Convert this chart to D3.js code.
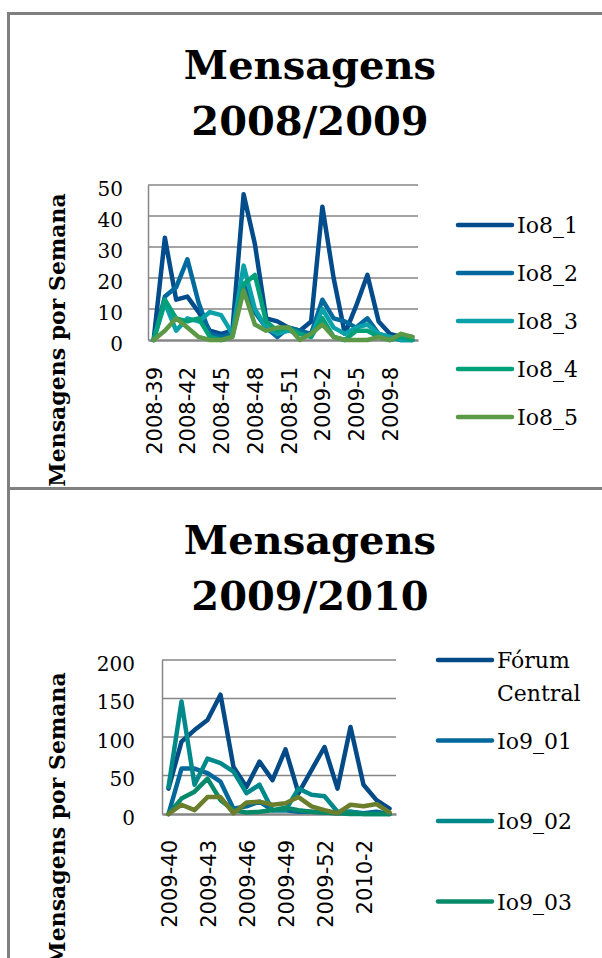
<!DOCTYPE html>
<html>
<head>
<meta charset="utf-8">
<script src="https://cdn.jsdelivr.net/npm/d3@7"></script>
<style>
  body { margin: 0; background: #fff; }
  svg { display: block; }
</style>
</head>
<body>
<svg id="chart" width="602" height="958"></svg>
<script>
/* data */
const weeks0809 = ['2008-39', '2008-40', '2008-41', '2008-42', '2008-43', '2008-44', '2008-45',
  '2008-46', '2008-47', '2008-48', '2008-49', '2008-50', '2008-51', '2008-52', '2009-1', '2009-2',
  '2009-3', '2009-4', '2009-5', '2009-6', '2009-7', '2009-8', '2009-9', '2009-10'];
const names0809 = ['Io8_1', 'Io8_2', 'Io8_3', 'Io8_4', 'Io8_5'];
const io8_1 = [0, 33, 13, 14, 9, 3, 2, 3, 47, 31, 7, 6, 4, 3, 6, 43, 20, 2, 11, 21, 6, 2, 1, 1];
const io8_2 = [0, 14, 17, 26, 12, 2, 1, 2, 18, 9, 4, 1, 4, 3, 2, 13, 7, 6, 4, 7, 2, 1, 0, 0];
const io8_3 = [0, 12, 3, 7, 6, 9, 8, 2, 24, 10, 4, 2, 3, 2, 1, 10, 4, 2, 4, 5, 2, 1, 0, 0];
const io8_4 = [0, 13, 7, 6, 7, 1, 0, 1, 18, 21, 6, 3, 4, 2, 1, 7, 1, 0, 3, 3, 1, 0, 1, 0];
const io8_5 = [0, 3, 7, 4, 1, 0, 0, 1, 16, 5, 3, 4, 4, 0, 2, 5, 1, 0, 0, 0, 1, 0, 2, 1];
const yTicks0809 = [0, 10, 20, 30, 40, 50];

const weeks0910 = ['2009-40', '2009-41', '2009-42', '2009-43', '2009-44', '2009-45', '2009-46',
  '2009-47', '2009-48', '2009-49', '2009-50', '2009-51', '2009-52', '2009-53', '2010-1', '2010-2',
  '2010-3', '2010-4'];
const names0910 = ['Fórum Central', 'Io9_01', 'Io9_02', 'Io9_03', 'Io9_04'];
const forum = [33, 94, 109, 122, 155, 61, 35, 68, 44, 84, 27, 57, 87, 33, 113, 38, 18, 7];
const io9_01 = [0, 59, 59, 53, 42, 7, 10, 16, 5, 5, 3, 3, 2, 1, 3, 1, 3, 0];
const io9_02 = [35, 146, 38, 72, 66, 55, 27, 38, 5, 5, 33, 25, 23, 3, 3, 0, 0, 0];
const io9_03 = [0, 20, 29, 46, 18, 5, 2, 3, 5, 8, 5, 3, 2, 1, 0, 0, 0, 0];
const io9_04 = [0, 12, 5, 22, 22, 1, 15, 16, 12, 14, 22, 10, 5, 1, 12, 10, 13, 2];
const yTicks0910 = [0, 50, 100, 150, 200];

const svg = d3.select('#chart');
const serif = '"DejaVu Serif", serif';
const sans = '"DejaVu Sans", sans-serif';
const gridColor = '#868686';

/**
 * draws one framed line chart with title, axes and legend
 */
const lineChart = (cs) => {
  const g = svg.append('g').attr('transform', `translate(0,${cs.top})`);

  // frame
  g.append('rect')
    .attr('x', 8.5).attr('y', 0.5)
    .attr('width', 640).attr('height', cs.frameHeight)
    .attr('fill', 'none')
    .attr('stroke', '#7f7f7f')
    .attr('stroke-width', 3);

  // title
  g.append('text')
    .attr('x', 310).attr('y', 66)
    .attr('text-anchor', 'middle')
    .style('font', `bold 40px ${serif}`)
    .text('Mensagens');
  g.append('text')
    .attr('x', 310).attr('y', 122)
    .attr('text-anchor', 'middle')
    .style('font', `bold 40px ${serif}`)
    .text(cs.subtitle);

  const x = d3.scalePoint().domain(cs.categories)
    .range([cs.plot.x0, cs.plot.x1]).padding(0.5);
  const y = d3.scaleLinear().domain([0, cs.max])
    .range([cs.plot.y1, cs.plot.y0]);

  // gridlines
  g.append('g').selectAll('line')
    .data(cs.yTicks.filter(t => t > 0))
    .join('line')
    .attr('x1', cs.plot.x0).attr('x2', cs.plot.x1)
    .attr('y1', d => y(d)).attr('y2', d => y(d))
    .attr('stroke', gridColor).attr('stroke-width', 1.5);

  // y axis
  const yAxis = g.append('g')
    .attr('transform', `translate(${cs.plot.x0},0)`)
    .call(d3.axisLeft(y).tickValues(cs.yTicks).tickSize(0).tickPadding(cs.yPad));
  yAxis.select('.domain').attr('stroke', gridColor).attr('stroke-width', 1.5);
  yAxis.selectAll('text')
    .attr('dy', 10)
    .style('font', `20px ${serif}`)
    .attr('fill', '#000');

  // x axis
  const xAxis = g.append('g')
    .attr('transform', `translate(0,${cs.plot.y1})`)
    .call(d3.axisBottom(x)
      .tickValues(cs.categories.filter((c, i) => i % 3 === 0))
      .tickSize(0));
  xAxis.select('.domain').attr('stroke', gridColor).attr('stroke-width', 2.5);
  xAxis.selectAll('text')
    .attr('transform', 'rotate(-90)')
    .attr('x', -cs.xPad).attr('y', 0)
    .attr('dy', '0.36em')
    .attr('text-anchor', 'end')
    .style('font', `21px ${sans}`)
    .attr('fill', '#000');

  // axis title
  g.append('text')
    .attr('transform', `translate(65,${cs.titleY}) rotate(-90)`)
    .attr('text-anchor', 'middle')
    .style('font', `bold 22px ${serif}`)
    .text('Mensagens por Semana');

  // lines
  const line = d3.line()
    .x((d, i) => x(cs.categories[i]))
    .y(d => y(d));
  g.append('g').selectAll('path')
    .data(cs.series)
    .join('path')
    .attr('d', d => line(d.values))
    .attr('fill', 'none')
    .attr('stroke', d => d.color)
    .attr('stroke-width', 4.5)
    .attr('stroke-linejoin', 'round')
    .attr('stroke-linecap', 'round');

  // legend (only the entries that fit in the frame)
  const leg = g.append('g').selectAll('g')
    .data(cs.series.slice(0, cs.legend.count))
    .join('g')
    .attr('transform', (d, i) => `translate(${cs.legend.x},${cs.legend.y + i * cs.legend.step})`);
  leg.append('line')
    .attr('x1', 0).attr('x2', 54)
    .attr('stroke', d => d.color)
    .attr('stroke-width', 4.5)
    .attr('stroke-linecap', 'round');
  leg.append('text')
    .attr('x', 59).attr('y', 8)
    .style('font', `22px ${serif}`)
    .selectAll('tspan')
    .data(d => d.name.split(' '))
    .join('tspan')
    .attr('x', 59)
    .attr('dy', (d, i) => (i ? 33 : 0))
    .text(d => d);
};

lineChart({
  top: 13,
  frameHeight: 475,
  subtitle: '2008/2009',
  categories: weeks0809,
  max: 50,
  yTicks: yTicks0809,
  yPad: 25,
  xPad: 27,
  titleY: 327,
  plot: { x0: 148, x1: 418, y0: 172, y1: 327 },
  legend: { x: 458, y: 212, step: 48, count: 5 },
  series: [
    { name: names0809[0], values: io8_1, color: '#024c8c' },
    { name: names0809[1], values: io8_2, color: '#00699d' },
    { name: names0809[2], values: io8_3, color: '#0aa2a8' },
    { name: names0809[3], values: io8_4, color: '#00a079' },
    { name: names0809[4], values: io8_5, color: '#5b9946' },
  ],
});

lineChart({
  top: 488,
  frameHeight: 500,
  subtitle: '2009/2010',
  categories: weeks0910,
  max: 200,
  yTicks: yTicks0910,
  yPad: 27,
  xPad: 26,
  titleY: 331,
  plot: { x0: 162, x1: 396, y0: 172, y1: 326 },
  legend: { x: 438, y: 172, step: 80.5, count: 4 },
  series: [
    { name: names0910[0], values: forum, color: '#044a86' },
    { name: names0910[1], values: io9_01, color: '#02679a' },
    { name: names0910[2], values: io9_02, color: '#00898b' },
    { name: names0910[3], values: io9_03, color: '#078a6a' },
    { name: names0910[4], values: io9_04, color: '#6b7e2c' },
  ],
});
</script>
</body>
</html>
